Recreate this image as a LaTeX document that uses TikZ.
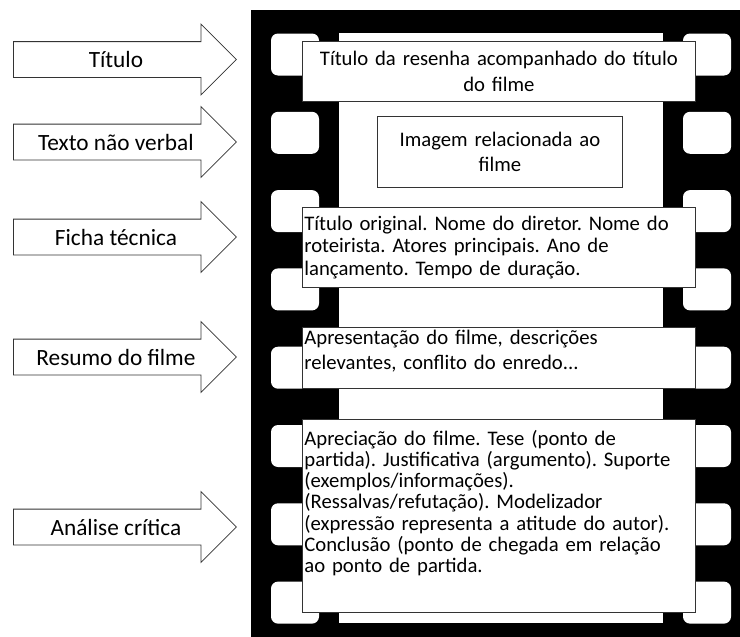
\documentclass[tikz,border=0pt]{standalone}
\usepackage{fontspec}
\setmainfont{Carlito}
\usetikzlibrary{shapes.arrows}
\frenchspacing

\begin{document}
\begin{tikzpicture}[x=1pt, y=-1pt,
                    tag/.style={single arrow, draw=black!80, fill=white,
                                line width=0.8pt, inner xsep=0pt,
                                inner ysep=17.5pt,
                                single arrow head extend=17.5pt,
                                single arrow tip angle=90,
                                minimum height=223pt, anchor=tail},
                    tagtext/.style={font=\fontsize{23.3}{27}\selectfont},
                    textbox/.style={draw=black!80, fill=white,
                                    line width=0.8pt, inner sep=2pt,
                                    font=\fontsize{20.7}{25}\selectfont},
                    hole/.style={fill=white, rounded corners=7pt}]
    \useasboundingbox (0,0) rectangle (740,637);

    % film strip
    \fill[black] (251,10) rectangle (740,637);
    \fill[white] (339,33) rectangle (663,623);
    \foreach \i in {0,...,7} {
            \fill[hole] (271,{33.5+78.3*\i}) rectangle (319,{75.5+78.3*\i});
            \fill[hole] (683,{33.5+78.3*\i}) rectangle (731,{75.5+78.3*\i});
        }

    % boxes on the strip
    \node[textbox, anchor=north west, minimum width=393pt,
          minimum height=60pt, text width=389pt, align=center,
          font=\fontsize{20.7}{26}\selectfont] (bxtitulo) at (302,41)
          {Título da resenha acompanhado do título\\do filme};
    \node[textbox, anchor=north west, minimum width=245pt,
          minimum height=71pt, text width=241pt, align=center] (bximagem)
          at (377,116) {Imagem relacionada ao\\filme};
    \node[textbox, anchor=north west, minimum width=393pt,
          minimum height=80pt, text width=389pt, align=left,
          font=\fontsize{20.7}{22.5}\selectfont] (bxficha) at (302,207)
          {Título original. Nome do diretor. Nome do\\roteirista. Atores principais. Ano de\\lançamento. Tempo de duração.};
    \node[textbox, anchor=north west, minimum width=393pt,
          minimum height=61pt, text width=389pt, align=left] (bxresumo)
          at (302,327)
          {Apresentação do filme, descrições\\relevantes, conflito do enredo...\rule[-16pt]{0pt}{16pt}};
    \node[textbox, anchor=north west, minimum width=393pt,
          minimum height=193pt, text width=389pt, align=left,
          font=\fontsize{20.7}{21.3}\selectfont] (bxanalise) at (302,419)
          {Apreciação do filme. Tese (ponto de\\partida). Justificativa (argumento). Suporte\\(exemplos/informações).\\(Ressalvas/refutação). Modelizador\\(expressão representa a atitude do autor).\\Conclusão (ponto de chegada em relação\\ao ponto de partida.\rule[-29pt]{0pt}{29pt}};

    % arrows on the left
    \node[tag, label={[tagtext]center:Título}] (titulo) at (13,59.5) {};
    \node[tag, label={[tagtext]center:Texto não verbal}] (naoverbal) at (13,142) {};
    \node[tag, label={[tagtext]center:Ficha técnica}] (ficha) at (13,237) {};
    \node[tag, label={[tagtext]center:Resumo do filme}] (resumo) at (13,357) {};
    \node[tag, label={[tagtext]center:Análise crítica}] (analise) at (13,527) {};
\end{tikzpicture}
\end{document}
